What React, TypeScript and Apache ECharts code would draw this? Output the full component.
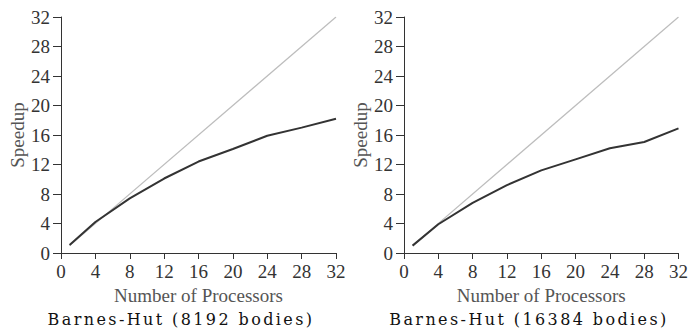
import React, { useEffect, useRef } from "react";
import * as echarts from "echarts";

const processors = [1, 4, 8, 12, 16, 20, 24, 28, 32];
const speedup8192 = [1.1, 4.2, 7.4, 10.1, 12.4, 14.1, 15.9, 17.0, 18.2];
const speedup16384 = [1.0, 3.9, 6.8, 9.2, 11.2, 12.7, 14.2, 15.05, 16.9];
const idealX = [1, 32];
const titles = ["Barnes-Hut (8192 bodies)", "Barnes-Hut (16384 bodies)"];

const serif = "Liberation Serif";

export default function App() {
  const ref = useRef<HTMLDivElement>(null);
  useEffect(() => {
    if (!ref.current) return;
    const chart = echarts.init(ref.current, undefined, { renderer: "svg" });
    const lefts = [61, 404];
    const datasets = [speedup8192, speedup16384];
    const grid = lefts.map((l) => ({ left: l, top: 17, width: 275, height: 236 }));
    const xAxis = lefts.map((_, i) => ({
      type: "value",
      gridIndex: i,
      min: 0,
      max: 32,
      interval: 4,
      name: "Number of Processors",
      nameLocation: "middle",
      nameGap: 32,
      nameTextStyle: { fontFamily: serif, fontSize: 19, color: "#555" },
      axisLine: { lineStyle: { color: "#333", width: 1 } },
      axisTick: { length: 6, lineStyle: { color: "#333" } },
      axisLabel: { fontFamily: serif, fontSize: 19, color: "#333", margin: 9 },
      splitLine: { show: false },
    }));
    const yAxis = lefts.map((_, i) => ({
      type: "value",
      gridIndex: i,
      min: 0,
      max: 32,
      interval: 4,
      name: "Speedup",
      nameLocation: "middle",
      nameGap: 34,
      nameTextStyle: { fontFamily: serif, fontSize: 19, color: "#555" },
      axisLine: { show: true, lineStyle: { color: "#333", width: 1 } },
      axisTick: { show: true, length: 8, lineStyle: { color: "#333" } },
      axisLabel: { fontFamily: serif, fontSize: 19, color: "#333", margin: 11 },
      splitLine: { show: false },
    }));
    const series: any[] = [];
    datasets.forEach((d, i) => {
      series.push({
        type: "line",
        xAxisIndex: i,
        yAxisIndex: i,
        data: idealX.map((x) => [x, x]),
        showSymbol: false,
        lineStyle: { color: "#bdbdbd", width: 1.2 },
        silent: true,
        z: 1,
      });
      series.push({
        type: "line",
        xAxisIndex: i,
        yAxisIndex: i,
        data: processors.map((p, j) => [p, d[j]]),
        showSymbol: false,
        lineStyle: { color: "#333", width: 2 },
        z: 2,
      });
    });
    chart.setOption({
      animation: false,
      backgroundColor: "#fff",
      title: titles.map((t, i) => ({
        text: t,
        left: [176, 524][i],
        textAlign: "center",
        top: 306,
        textStyle: { fontFamily: "DejaVu Serif", fontSize: 16, fontWeight: "normal", color: "#111" },
      })),
      grid,
      xAxis,
      yAxis,
      series,
    });
    return () => chart.dispose();
  }, []);
  return (
    <>
      <style>{`svg text[style*="DejaVu"] { letter-spacing: 2.4px; }`}</style>
      <div ref={ref} style={{ width: 691, height: 331, position: "absolute", left: 0, top: 0 }} />
    </>
  );
}
